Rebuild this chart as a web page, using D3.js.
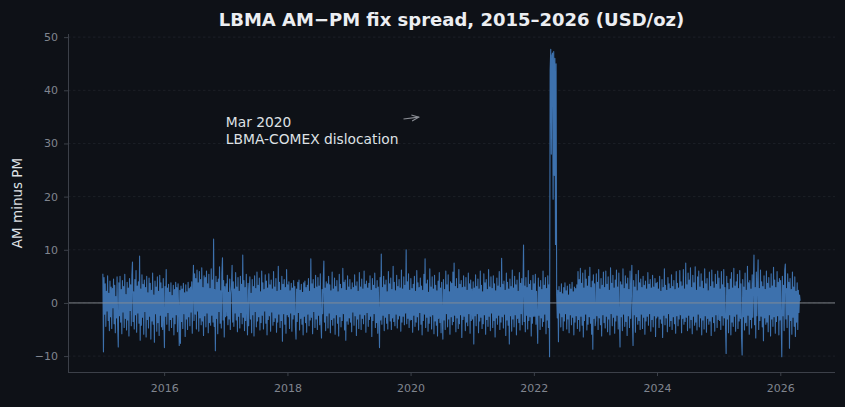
<!DOCTYPE html>
<html><head><meta charset="utf-8">
<script src="https://cdn.jsdelivr.net/npm/d3@7"></script>
<style>html,body{margin:0;padding:0;background:#0e1117;}svg{display:block;}</style>
</head><body>
<svg id="chart" width="845" height="407"></svg>
<script>
// Daily-ish LBMA AM minus PM fix spread (USD/oz), ~2 readings per week, by year
const spread2015=[5.5,-9.2,4.8,-2.1,3.6,-4.4,2.2,-1.5,5.1,-3.3,1.8,-5.2,4.1,-2.6,3.0,-4.8,2.7,-0.9,4.5,-3.9,3.3,-5.6,1.2,-2.8,4.9,-4.1,-8.3,3.8,-2.4,5.0,-3.6,2.5,-5.8,4.2,-1.7,3.1,-4.6,5.4,-2.9,1.6,-5.1,3.9,-3.2,2.8,-6.2,4.6,-1.4,3.4,-4.3,5.2,7.7,-3.5,2.1,-4.9,4.4,-2.2,6.1,-5.5,3.2,-1.9,4.0,-3.8,8.8,-7.0,2.6,-4.2,5.3,-2.7,3.5,-5.9,4.3,-1.6,2.9,-6.4,5.0,-3.1,1.9,-4.7,4.7,-2.5,3.7,-6.8,2.4,-3.4,5.6,-4.0,1.5,-7.4,4.1,-2.0,3.0,-5.3,4.9,-3.7,2.2,-6.1,5.2,-2.3,3.8,-4.5,2.7,-5.0,4.6,-3.0];
const spread2016=[-8.4,3.1,-2.5,6.3,-4.0,2.8,-1.8,3.5,-5.2,2.0,-3.1,3.8,-4.6,1.4,-2.7,3.3,-6.0,2.5,-3.9,3.9,-2.2,2.9,-5.4,3.6,-1.3,-8.0,2.4,-7.6,3.2,-3.5,2.6,-4.8,3.7,-2.0,1.9,-6.3,3.4,-3.0,2.1,-5.0,3.9,-2.6,2.7,-4.3,3.0,-1.7,4.0,-5.7,2.3,7.1,-3.3,5.5,-2.1,4.6,-4.9,6.2,-1.5,3.8,-5.3,5.9,-2.8,4.4,-4.1,6.6,-3.4,2.9,-6.1,5.1,-2.4,4.8,-4.5,6.0,-1.9,3.6,-5.6,5.4,-3.7,2.7,-4.2,6.4,-2.3,4.3,-3.6,12.0,-4.4,2.5,-9.0,5.0,-2.9,3.9,-5.8,4.5,-1.6,6.8,-3.8,2.3,-4.7,5.6,8.5,-3.2,4.2,-6.4,3.1,-2.6];
const spread2017=[3.6,-2.4,5.2,-4.1,2.0,-3.0,4.5,-5.0,1.7,3.2,7.1,-3.6,4.0,-4.4,2.6,-1.9,5.7,-3.2,3.0,-5.4,4.8,-2.5,2.2,-4.7,5.0,-1.8,3.5,-3.9,9.0,-2.7,4.2,-5.2,2.9,-3.3,5.4,-2.0,-6.0,3.7,-4.3,2.4,4.9,-3.0,1.8,-5.6,4.4,-2.2,3.1,-6.2,5.1,-1.6,2.7,-4.5,5.8,-3.4,3.3,-2.6,4.7,-5.1,2.1,-3.7,6.0,-2.3,3.8,-4.9,2.5,-1.5,5.3,-3.8,4.1,-6.0,2.8,-3.1,5.5,-2.4,3.4,-5.3,4.3,-1.7,2.6,-4.2,5.9,-3.5,3.0,-2.8,4.6,-5.5,2.2,-3.6,6.9,-2.1,3.9,-4.6,2.4,-3.3,5.0,-7.2,3.5,-2.0,4.4,-4.0,2.9,-5.7,6.3,-2.2];
const spread2018=[3.4,-2.6,4.0,-4.8,2.3,-1.9,3.7,-5.3,2.8,-3.0,4.2,-2.2,3.1,-4.4,-6.8,2.6,-3.5,3.9,-1.8,4.3,-5.1,2.4,-2.9,3.5,-4.0,2.0,-6.0,3.8,-2.5,4.1,-3.7,2.9,-5.5,3.3,-2.1,4.6,-4.3,2.2,-3.2,8.3,-2.7,3.6,-5.8,4.4,-1.6,2.7,-4.6,5.2,-3.0,3.0,-5.0,4.8,-2.3,3.2,-4.1,5.5,-3.4,-6.6,2.5,-2.0,4.5,7.9,-3.6,2.8,-5.2,4.0,-2.4,3.6,-4.7,5.0,-1.9,3.4,-5.6,2.3,-3.1,5.8,-4.2,2.6,-2.8,4.7,-5.9,3.1,-2.2,4.2,-3.8,2.1,-6.2,5.4,-2.6,3.5,-4.5,2.7,-3.3,6.5,-2.0,3.9,-5.1,4.3,-7.0,2.4,-3.4,5.1,-4.0,3.0];
const spread2019=[-2.8,4.4,-3.6,2.5,-5.4,3.8,-1.7,2.9,-4.2,5.3,-2.4,3.2,-6.1,4.0,-3.0,2.2,-4.8,5.7,-2.1,3.0,-5.0,4.5,-2.9,2.6,-3.9,6.0,-2.2,3.5,-5.5,4.1,-1.8,2.8,-4.4,3.7,-3.1,5.1,-2.5,2.4,-6.3,4.6,-3.3,3.3,-2.0,5.6,-4.6,2.7,-3.7,4.2,-5.7,3.0,-2.6,-8.4,4.8,-3.2,9.2,-4.0,2.9,-2.3,5.0,-5.2,3.4,-2.7,4.3,-3.8,2.1,-4.9,5.9,-2.0,3.6,-3.4,4.7,-5.0,2.5,-2.8,6.9,-3.5,3.9,-4.3,2.3,-2.1,5.2,-4.7,3.1,-3.0,4.4,-2.4,2.8,-5.3,6.2,-3.6,2.6,-2.5,4.9,-4.1,3.3,-1.9,10.0,-3.9,4.0,-2.9,5.5,-4.6,2.4,-3.2];
const spread2020=[4.6,-3.1,2.7,-5.5,3.5,-2.3,5.0,-4.4,2.2,-3.6,6.1,-2.6,3.8,-5.1,2.9,-1.8,4.7,-4.0,3.2,-6.0,2.4,-3.3,5.4,-2.1,8.3,-4.6,3.6,-2.7,4.3,-5.3,2.0,-3.8,6.4,-2.5,3.0,-4.9,4.9,-2.2,2.6,-5.8,5.2,-3.4,3.3,-4.2,2.3,-6.2,4.1,-2.9,5.7,-3.7,2.8,-5.6,3.9,-2.4,-6.8,4.4,-3.2,2.5,-5.0,6.0,-2.0,3.4,-4.5,5.3,-3.0,2.1,-5.9,4.0,-2.6,3.7,-4.1,5.8,-3.5,7.5,-2.3,3.1,-5.4,4.6,-2.8,2.7,-4.8,6.3,-3.9,3.5,-2.2,4.2,-6.5,2.9,-3.1,5.1,-2.5,3.0,-5.2,4.8,-3.6,2.4,-4.3,5.6,-2.0,3.6,-5.7,4.3,-3.3,2.6];
const spread2021=[-3.0,4.0,-7.7,2.8,-2.4,5.3,-4.3,3.1,-2.0,4.5,-5.6,2.6,-3.4,6.0,-2.7,3.3,-4.8,2.1,-3.9,5.5,-2.2,3.8,-5.9,4.4,-3.1,2.5,-4.4,6.3,-2.5,3.0,-5.2,4.9,-1.9,2.7,-4.6,5.1,-3.3,3.6,-6.4,2.3,-2.8,4.7,-4.0,3.2,-2.3,5.9,-5.0,2.9,-3.6,8.4,-2.6,3.5,-4.7,4.1,-2.1,2.4,-6.1,5.6,-3.2,3.9,-4.2,2.6,-7.7,4.5,-2.4,3.1,-5.3,6.2,-3.0,2.8,-4.5,5.0,-2.2,3.4,-6.0,4.3,-2.9,2.2,-3.7,5.7,-5.1,3.7,-2.0,4.6,-4.1,2.5,10.9,-3.5,3.2,-5.4,4.8,-2.3,2.9,-4.9,6.1,-3.3,3.5,-2.6,4.2,-6.2,2.4,-3.8,5.2,-2.5];
const spread2022=[3.6,-2.5,5.4,-4.0,2.2,-3.1,-7.6,4.7,-2.3,3.0,-5.0,4.2,-2.8,2.5,-4.4,6.0,-3.5,3.3,-2.1,4.8,-5.8,2.7,-3.2,5.1,-4.6,3.4,-10.1,43.8,47.7,28.0,46.5,47.0,19.5,47.3,24.0,46.0,11.0,45.0,1.5,-2.8,2.4,-7.3,3.1,-1.9,2.0,-4.5,3.6,-2.6,1.7,-5.2,2.9,-3.4,3.8,-2.0,2.3,-4.9,3.2,-3.0,1.5,-5.6,3.5,-2.2,2.6,-4.1,3.9,-2.7,2.1,-6.0,3.0,-3.6,2.7,-2.4,3.4,-4.8,5.9,-3.1,4.4,-5.3,6.5,-2.5,3.7,-4.2,5.6,-6.4,2.8,-3.3,6.2,-2.1,4.5,-5.1,3.2,-4.0,5.0,-2.6,6.7,-3.8,2.9,-5.9,4.1,-8.7,5.3,-2.9,3.6,-4.3];
const spread2023=[-3.2,5.5,-2.4,3.9,-5.0,6.3,-2.8,2.6,-4.1,4.6,-6.2,3.3,-2.2,5.8,-3.7,2.9,-4.7,6.0,-2.5,3.5,-5.4,4.9,-3.0,2.4,-6.0,6.6,-2.0,3.7,-4.3,5.2,-2.7,2.8,-5.7,4.3,-3.4,6.2,-2.3,3.0,-4.9,5.6,-3.1,-8.3,4.0,-2.6,3.4,-5.2,6.4,-2.1,2.7,-4.4,5.1,-3.5,3.6,-6.1,4.7,-2.4,2.5,-4.6,6.0,-2.9,3.2,7.1,-3.8,-8.0,4.2,-2.2,3.0,-5.5,5.4,-2.6,2.3,-4.0,6.1,-3.3,3.8,-5.0,4.5,-2.1,2.9,-4.8,5.0,-2.7,3.3,-5.9,4.1,-3.4,2.6,-2.5,5.7,-4.2,3.5,-2.0,4.4,-5.3,2.8,-3.1,5.2,-4.5,3.0,-2.4,4.6,-6.3,3.7,-2.8];
const spread2024=[3.9,-2.5,2.6,-4.6,5.0,-3.0,2.2,-3.8,4.4,-6.5,2.9,-2.3,6.4,-4.1,3.3,-2.8,2.4,-5.4,4.8,-2.0,3.6,-4.4,2.7,-3.3,5.3,-5.0,3.1,-2.6,4.2,-3.9,2.5,-5.7,5.9,-2.4,3.7,-4.3,2.8,-3.0,6.1,-2.2,4.0,-5.6,3.2,-2.9,6.3,-4.0,2.6,-3.5,7.5,-2.7,3.4,-5.2,5.6,-2.3,4.3,-4.7,6.6,-3.1,2.9,-5.8,5.2,-2.5,3.8,-4.2,6.8,-3.6,2.4,-5.1,4.9,-2.1,6.0,-4.5,3.0,-2.8,5.5,-6.0,4.1,-3.2,2.7,-4.9,6.4,-2.4,3.6,-5.5,4.6,-2.9,2.3,-4.0,5.8,-3.4,3.1,-6.1,6.2,-2.6,4.0,-3.7,2.8,-5.3,5.4,-2.2,3.5,-4.6,6.0,-3.1];
const spread2025=[4.7,-3.3,2.6,-5.0,5.9,-2.4,3.4,-4.2,6.3,-2.8,2.9,-4.6,-9.5,5.0,-3.0,3.7,-5.6,2.5,-2.2,4.5,-6.0,5.7,-3.6,2.8,-4.4,6.5,-2.5,3.2,-5.3,4.0,-2.1,5.4,-4.8,2.7,-3.4,6.1,-2.9,3.6,-6.4,-9.8,4.4,-2.6,3.0,-5.1,5.6,-3.7,2.4,-4.3,6.9,-2.3,3.8,-5.9,4.2,-3.1,2.6,-4.7,5.3,-2.7,3.3,9.0,-4.1,2.9,-6.6,5.8,-2.4,3.5,8.1,-5.0,2.7,-3.3,6.2,-2.5,4.0,-4.5,3.1,-7.1,5.1,-2.8,2.5,-4.0,6.0,-3.6,3.7,-5.4,4.8,-2.2,2.8,-6.2,5.5,-3.0,3.2,-4.4,6.7,-2.6,4.3,-5.7,2.9,-3.5,5.9,-2.4,3.9,-6.0,4.6,-3.2];
const spread2026=[4.2,-3.5,-10.1,5.0,-2.4,3.3,-5.2,6.1,7.3,-3.0,2.7,-4.6,5.5,-2.2,3.9,-8.5,4.6,-3.3,2.5,-5.9,5.8,-2.7,3.0,-4.4,4.9,-6.3,2.2,-3.6,3.8,-5.0,2.4,-1.8,1.5,0.4];

const years=[2015,2016,2017,2018,2019,2020,2021,2022,2023,2024,2025,2026];
const yearlySeries=[spread2015,spread2016,spread2017,spread2018,spread2019,spread2020,spread2021,spread2022,spread2023,spread2024,spread2025,spread2026];
const readingsPerYear=104;
const yTicks=[-10,0,10,20,30,40,50];
const xTickYears=[2016,2018,2020,2022,2024,2026];
const titleText="LBMA AM\u2212PM fix spread, 2015\u20132026 (USD/oz)";
const yLabelText="AM minus PM";
const noteLines=["Mar 2020","LBMA-COMEX dislocation"];
const noteTextAt={date:"2017-01-01",value:32.2};
const noteArrowTo={date:"2020-03-01",value:35.0};

// build data
const DAY=864e5;
const data=[];
years.forEach((yr,k)=>{
  const t0=Date.UTC(yr,0,1);
  yearlySeries[k].forEach((v,i)=>{
    data.push({date:new Date(t0+(i+0.5)/readingsPerYear*365.25*DAY),value:v});
  });
});

const W=845,H=407;
const M={left:68,right:10,top:34,bottom:35};
const svg=d3.select("#chart");
svg.append("rect").attr("width",W).attr("height",H).attr("fill","#0e1117");

const tExt=d3.extent(data,d=>+d.date);
const tPad=(tExt[1]-tExt[0])*0.05;
const x=d3.scaleUtc().domain([new Date(tExt[0]-tPad),new Date(tExt[1]+tPad)]).range([M.left,W-M.right]);
const vExt=d3.extent(data,d=>d.value);
const vPad=(vExt[1]-vExt[0])*0.05;
const y=d3.scaleLinear().domain([vExt[0]-vPad,vExt[1]+vPad]).range([H-M.bottom,M.top]);

const axisCol="#3c4049", tickTxt="#80858f";

// grid
svg.append("g").selectAll("line").data(yTicks).join("line")
  .attr("x1",M.left).attr("x2",W-M.right)
  .attr("y1",d=>y(d)).attr("y2",d=>y(d))
  .attr("stroke","#22262e").attr("stroke-width",0.7).attr("stroke-dasharray","2.5,2.5");

// series line
const line=d3.line().x(d=>x(d.date)).y(d=>y(d.value));
svg.append("path").datum(data).attr("d",line)
  .attr("fill","none").attr("stroke","#3d71ad")
  .attr("stroke-width",1.1).attr("stroke-linejoin","round");

// zero line
svg.append("line").attr("x1",M.left).attr("x2",W-M.right)
  .attr("y1",y(0)).attr("y2",y(0)).attr("stroke","#8a8d94").attr("stroke-width",0.9);

// axes
const yAxis=d3.axisLeft(y).tickValues(yTicks).tickSize(4).tickPadding(6)
  .tickFormat(d=>d<0?"\u2212"+Math.abs(d):String(d));
const gy=svg.append("g").attr("transform",`translate(${M.left},0)`).call(yAxis);
gy.select(".domain").attr("stroke",axisCol).attr("d",`M0.5,${M.top}V${H-M.bottom}`);
gy.selectAll(".tick line").attr("stroke",axisCol);
gy.selectAll(".tick text").attr("fill",tickTxt).attr("font-size","11px").attr("font-family","DejaVu Sans");

const xAxis=d3.axisBottom(x).tickValues(xTickYears.map(yr=>new Date(Date.UTC(yr,0,1))))
  .tickSize(4).tickPadding(8).tickFormat(d3.utcFormat("%Y"));
const gx=svg.append("g").attr("transform",`translate(0,${H-M.bottom})`).call(xAxis);
gx.select(".domain").attr("stroke",axisCol).attr("d",`M${M.left},0.5H${W-M.right}`);
gx.selectAll(".tick line").attr("stroke",axisCol);
gx.selectAll(".tick text").attr("fill",tickTxt).attr("font-size","11px").attr("font-family","DejaVu Sans");

// title
svg.append("text").attr("x",(M.left+W-M.right)/2).attr("y",25.5).attr("text-anchor","middle")
  .attr("font-family","DejaVu Sans").attr("font-weight","bold").attr("font-size","18px")
  .attr("fill","#eceef2").text(titleText);

// y label
svg.append("text").attr("transform",`translate(21.5,${(M.top+H-M.bottom)/2}) rotate(-90)`)
  .attr("text-anchor","middle").attr("font-family","DejaVu Sans").attr("font-size","13.5px")
  .attr("fill","#dfe1e5").text(yLabelText);

// annotation
const parseD=d3.utcParse("%Y-%m-%d");
const tx=x(parseD(noteTextAt.date)), ty=y(noteTextAt.value);
const note=svg.append("text").attr("font-family","DejaVu Sans").attr("font-size","13.8px").attr("fill","#dfe1e5");
noteLines.forEach((s,i)=>{
  note.append("tspan").attr("x",tx).attr("y",ty-4.5+(i)*16.5).text(s);
});
const bb=note.node().getBBox();
const ax=x(parseD(noteArrowTo.date)), ay=y(noteArrowTo.value);
const cx=bb.x+bb.width/2, cy=bb.y+bb.height/2;
const sx=bb.x+bb.width+5, sy=cy+(ay-cy)*((bb.x+bb.width+5-cx)/(ax-cx));
const ang=Math.atan2(ay-sy,ax-sx);
const ex=ax-2*Math.cos(ang), ey=ay-2*Math.sin(ang);
svg.append("line").attr("x1",sx).attr("y1",sy).attr("x2",ex).attr("y2",ey)
  .attr("stroke","#8a8d94").attr("stroke-width",1.1);
const hl=7,hw=3;
const p1=[ex-hl*Math.cos(ang)+hw*Math.sin(ang), ey-hl*Math.sin(ang)-hw*Math.cos(ang)];
const p2=[ex-hl*Math.cos(ang)-hw*Math.sin(ang), ey-hl*Math.sin(ang)+hw*Math.cos(ang)];
svg.append("path").attr("d",`M${p1}L${ex},${ey}L${p2}`).attr("fill","none")
  .attr("stroke","#8a8d94").attr("stroke-width",1.1);
</script>
</body></html>
